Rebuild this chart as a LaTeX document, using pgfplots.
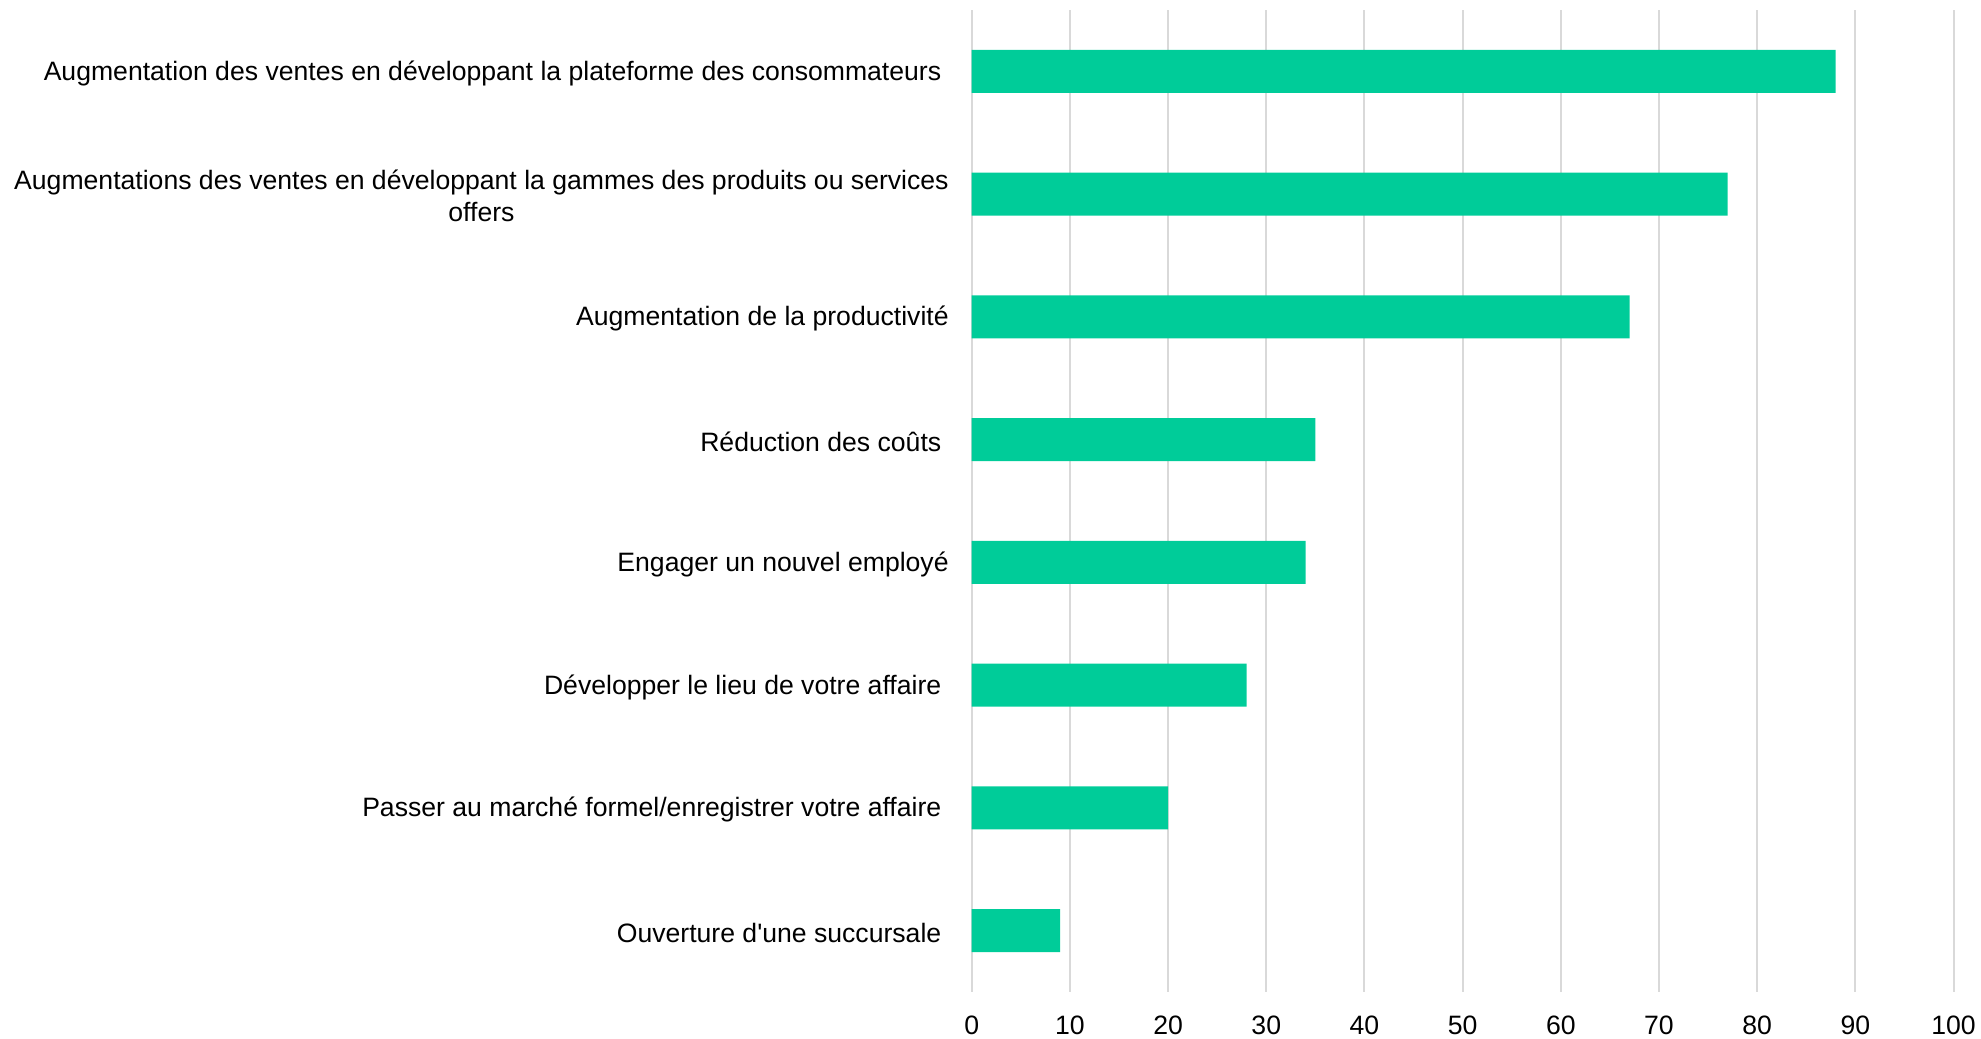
\documentclass[border=0pt]{standalone}
\usepackage{pgfplots}
\pgfplotsset{compat=1.18}
\usepackage{fontspec}
\setmainfont{Liberation Sans}
\definecolor{barvert}{HTML}{00CC99}
\definecolor{grille}{HTML}{D9D9D9}

\begin{document}
\begin{tikzpicture}
\begin{axis}[
    at={(0,0)}, anchor=south west,
    scale only axis,
    width=490.9pt, height=491pt,
    xbar,
    bar width=21.5pt,
    xmin=0, xmax=100,
    xtick={0,10,...,100},
    ymin=-0.5, ymax=7.5,
    y dir=reverse,
    ytick={0,...,7},
    yticklabels={
        {Augmentation des ventes en développant la plateforme des consommateurs\hspace*{3.7pt}},
        {Augmentations des ventes en développant la gammes des produits ou services\\offers},
        {Augmentation de la productivité},
        {Réduction des coûts\hspace*{3.7pt}},
        {Engager un nouvel employé},
        {Développer le lieu de votre affaire\hspace*{3.7pt}},
        {Passer au marché formel/enregistrer votre affaire\hspace*{3.7pt}},
        {Ouverture d\textquotesingle une succursale\hspace*{3.7pt}}
    },
    yticklabel style={align=center, font=\fontsize{13.3}{16}\selectfont},
    xticklabel style={font=\fontsize{13.3}{16}\selectfont},
    /pgf/number format/assume math mode=true,
    yticklabel style={xshift=-8pt, yshift=-1pt},
    xticklabel style={yshift=-8.5pt},
    axis line style={draw=none},
    major tick length=0pt,
    xmajorgrids,
    grid style={color=grille, line width=1pt},
]
\addplot[fill=barvert, draw=none] coordinates {
    (88,0) (77,1) (67,2) (35,3) (34,4) (28,5) (20,6) (9,7)
};
\end{axis}
\pgfresetboundingbox
\path[use as bounding box] (-485.9pt,-23.5pt) rectangle (504.65pt,496pt);
\end{tikzpicture}
\end{document}
